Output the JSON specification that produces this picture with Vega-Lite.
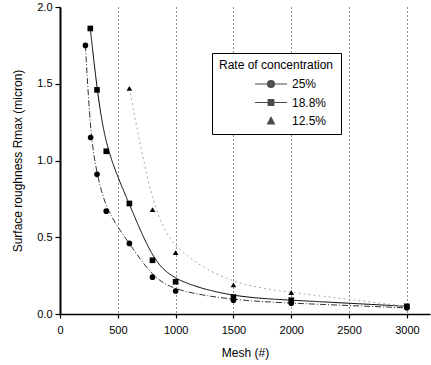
{
  "$schema": "https://vega.github.io/schema/vega-lite/v6.json",
  "width": 370,
  "height": 307,
  "autosize": {"type": "none"},
  "padding": {"left": 60, "top": 7, "right": 1, "bottom": 51},
  "background": "white",
  "config": {
    "font": "Liberation Sans",
    "view": {"stroke": null},
    "axis": {"labelColor": "black", "titleColor": "black", "domainColor": "black", "tickColor": "black", "labelFontSize": 11, "titleFontSize": 12, "titleFontWeight": "normal", "domainWidth": 1.5, "tickWidth": 1.2}
  },
  "data": {
    "values": [
      {"mesh": 220, "r": 1.75, "series": "25%"},
      {"mesh": 265, "r": 1.15, "series": "25%"},
      {"mesh": 320, "r": 0.91, "series": "25%"},
      {"mesh": 400, "r": 0.67, "series": "25%"},
      {"mesh": 600, "r": 0.46, "series": "25%"},
      {"mesh": 800, "r": 0.24, "series": "25%"},
      {"mesh": 1000, "r": 0.15, "series": "25%"},
      {"mesh": 1500, "r": 0.09, "series": "25%"},
      {"mesh": 2000, "r": 0.07, "series": "25%"},
      {"mesh": 3000, "r": 0.04, "series": "25%"},
      {"mesh": 262, "r": 1.86, "series": "18.8%"},
      {"mesh": 320, "r": 1.46, "series": "18.8%"},
      {"mesh": 400, "r": 1.06, "series": "18.8%"},
      {"mesh": 600, "r": 0.72, "series": "18.8%"},
      {"mesh": 800, "r": 0.35, "series": "18.8%"},
      {"mesh": 1000, "r": 0.21, "series": "18.8%"},
      {"mesh": 1500, "r": 0.11, "series": "18.8%"},
      {"mesh": 2000, "r": 0.09, "series": "18.8%"},
      {"mesh": 3000, "r": 0.05, "series": "18.8%"},
      {"mesh": 600, "r": 1.47, "series": "12.5%"},
      {"mesh": 800, "r": 0.68, "series": "12.5%"},
      {"mesh": 1000, "r": 0.40, "series": "12.5%"},
      {"mesh": 1500, "r": 0.19, "series": "12.5%"},
      {"mesh": 2000, "r": 0.14, "series": "12.5%"},
      {"mesh": 3000, "r": 0.05, "series": "12.5%"}
    ]
  },
  "encoding": {
    "x": {
      "field": "mesh", "type": "quantitative",
      "scale": {"domain": [0, 3200], "nice": false},
      "axis": {"values": [0, 500, 1000, 1500, 2000, 2500, 3000], "format": "d", "title": "Mesh (#)", "grid": true, "gridDash": [1, 3], "gridColor": "#222", "gridWidth": 1, "tickSize": 4, "labelPadding": 6, "titlePadding": 12, "labelFlush": false}
    },
    "y": {
      "field": "r", "type": "quantitative",
      "scale": {"domain": [0, 2], "nice": false},
      "axis": {"values": [0, 0.5, 1, 1.5, 2], "format": ".1f", "title": "Surface roughness Rmax (micron)", "grid": false, "tickSize": 5, "labelPadding": 3, "titlePadding": 12, "domainWidth": 2}
    }
  },
  "layer": [
    {
      "mark": {"type": "line", "interpolate": "basis", "clip": true, "strokeWidth": 1},
      "encoding": {
        "color": {"field": "series", "type": "nominal", "scale": {"domain": ["25%", "18.8%", "12.5%"], "range": ["#333333", "#000000", "#aaaaaa"]}, "legend": null},
        "strokeDash": {"field": "series", "type": "nominal", "scale": {"domain": ["25%", "18.8%", "12.5%"], "range": [[6, 2, 1, 2], [1, 0], [2, 3]]}, "legend": null}
      }
    },
    {
      "mark": {"type": "point", "filled": true, "clip": true, "color": "black", "opacity": 1},
      "encoding": {
        "shape": {"field": "series", "type": "nominal", "scale": {"domain": ["25%", "18.8%", "12.5%"], "range": ["circle", "square", "triangle-up"]}, "legend": null},
        "size": {"value": 32}
      }
    },
    {
      "transform": [{"filter": "datum.r < 0"}],
      "mark": {"type": "point", "filled": false, "stroke": "black", "strokeWidth": 1.2},
      "encoding": {
        "shape": {
          "field": "series", "type": "nominal",
          "scale": {"domain": ["25%", "18.8%", "12.5%"], "range": [
            "M-4,0H-0.85M0.85,0H4M0.85,0A0.85,0.85 0 1,1 -0.85,0A0.85,0.85 0 1,1 0.85,0M0.55,0A0.55,0.55 0 1,1 -0.55,0A0.55,0.55 0 1,1 0.55,0M0.25,0A0.25,0.25 0 1,1 -0.25,0A0.25,0.25 0 1,1 0.25,0",
            "M-4,0H4M-0.7,-0.7H0.7V0.7H-0.7ZM-0.4,-0.4H0.4V0.4H-0.4ZM-0.1,-0.1H0.1V0.1H-0.1Z",
            "M0,-0.9L0.85,0.7H-0.85ZM0,-0.47L0.51,0.49H-0.51ZM0,-0.1L0.21,0.3H-0.21Z"
          ]},
          "legend": {
            "title": "Rate of concentration",
            "orient": "none", "legendX": 152, "legendY": 46,
            "strokeColor": "black", "fillColor": "white", "padding": 7,
            "titleFontSize": 12, "titleFontWeight": "normal", "titleColor": "black", "titleAnchor": "middle", "titlePadding": 6,
            "labelFontSize": 12, "labelColor": "black", "labelOffset": 15,
            "labelExpr": "datum.label == '25%' ? '\u00a0\u00a0\u00a025%' : datum.label + '\u00a0\u00a0\u00a0\u00a0\u00a0\u00a0\u00a0'",
            "symbolSize": 64, "symbolFillColor": "black", "symbolStrokeColor": "black", "symbolStrokeWidth": 1.2,
            "rowPadding": 6.5, "symbolOffset": 40
          }
        },
        "size": {"value": 64}
      }
    }
  ],
  "resolve": {"scale": {"shape": "independent"}}
}
